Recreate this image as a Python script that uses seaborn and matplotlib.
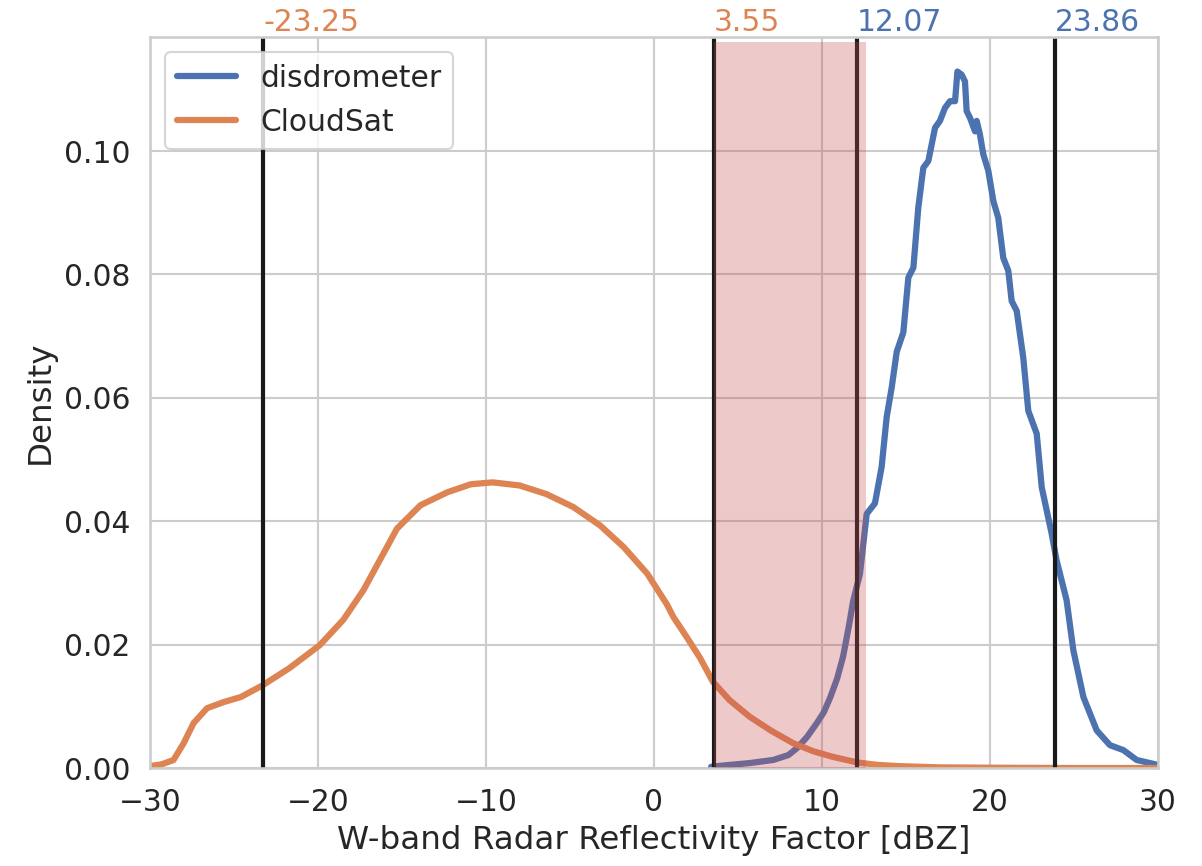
import pandas as pd
import matplotlib
matplotlib.use("Agg")
import matplotlib.pyplot as plt
import seaborn as sns

# density curves
cloudsat_x = [-30, -29.3, -28.6, -28.0, -27.4, -26.6, -25.6, -24.6, -23.3, -21.7, -19.9,
              -18.5, -17.3, -16.3, -15.3, -13.9, -12.3, -10.9, -9.6, -8.0, -6.4, -4.8,
              -3.2, -1.8, -0.4, 0.75, 1.15, 2.0, 2.75, 3.5, 4.5, 5.7, 7.0, 8.3, 9.5,
              10.65, 12.1, 13.3, 14.6, 17.0, 20.0, 25.0, 30.0]
cloudsat_y = [0.0003, 0.0006, 0.0013, 0.004, 0.0073, 0.0097, 0.0107, 0.0115, 0.0134, 0.0162,
              0.0199, 0.024, 0.0288, 0.0338, 0.0388, 0.0426, 0.0447, 0.046, 0.0463, 0.0458,
              0.0444, 0.0423, 0.0393, 0.0358, 0.0315, 0.0266, 0.0245, 0.021, 0.0178, 0.014,
              0.011, 0.0083, 0.006, 0.004, 0.0027, 0.0018, 0.0009, 0.0005, 0.0003, 0.0001,
              0.00005, 0.0, 0.0]

disdro_x = [3.4, 4.5, 5.7, 7.1, 8.0, 8.5, 9.1, 9.7, 10.1, 10.5, 10.9, 11.25, 11.6, 11.85,
            12.26, 12.66, 13.15, 13.55, 13.85, 14.15, 14.45, 14.84, 15.14, 15.44, 15.73,
            16.03, 16.33, 16.73, 17.02, 17.32, 17.62, 17.92, 18.06, 18.31, 18.51, 18.61,
            18.81, 19.11, 19.21, 19.40, 19.60, 19.90, 20.20, 20.49, 20.79, 21.09, 21.29,
            21.59, 21.98, 22.28, 22.78, 23.08, 23.67, 23.96, 24.56, 24.96, 25.56, 26.35,
            27.14, 27.94, 28.73, 29.52, 30.0]
disdro_y = [0.0002, 0.0005, 0.0008, 0.0013, 0.0021, 0.0032, 0.005, 0.0073, 0.009, 0.0115,
            0.0145, 0.018, 0.023, 0.027, 0.0315, 0.0412, 0.0429, 0.0488, 0.0569, 0.0617,
            0.0675, 0.0706, 0.0795, 0.0811, 0.0908, 0.0973, 0.0984, 0.1038, 0.1049, 0.107,
            0.1081, 0.1081, 0.1129, 0.1124, 0.1113, 0.1065, 0.1054, 0.1032, 0.1049, 0.1027,
            0.0995, 0.0968, 0.0919, 0.0892, 0.0827, 0.0806, 0.0757, 0.0741, 0.0665, 0.0579,
            0.0542, 0.0455, 0.038, 0.0337, 0.0272, 0.0191, 0.0115, 0.0061, 0.0037, 0.0029,
            0.0013, 0.0008, 0.0005]

cloudsat_bounds = [-23.25, 3.55]
disdro_bounds = [12.07, 23.86]
span = [3.55, 12.6]

df = pd.concat([
    pd.DataFrame({'dBZ': disdro_x, 'Density': disdro_y, 'source': 'disdrometer'}),
    pd.DataFrame({'dBZ': cloudsat_x, 'Density': cloudsat_y, 'source': 'CloudSat'}),
])

sns.set_theme(style="whitegrid", font_scale=1.3)
pal = sns.color_palette("deep")

fig = plt.figure(figsize=(1202 / 150, 866 / 150), dpi=150)
ax = fig.add_axes([150 / 1202, 1 - 768 / 866, 1008 / 1202, 731 / 866])

sns.lineplot(data=df, x='dBZ', y='Density', hue='source', palette=[pal[0], pal[1]],
             linewidth=3, estimator=None, sort=False, ax=ax)

ax.set_xlim(-30, 30)
ax.set_ylim(0, 0.1185)
ytop = ax.get_ylim()[1]

for v in cloudsat_bounds + disdro_bounds:
    ax.axvline(v, color='k', linewidth=2)
for v in cloudsat_bounds:
    ax.text(v, ytop, f'{v:.2f}', color=pal[1], fontsize=14.3, ha='left', va='bottom')
for v in disdro_bounds:
    ax.text(v, ytop, f'{v:.2f}', color=pal[0], fontsize=14.3, ha='left', va='bottom')

ax.axvspan(span[0], span[1], ymin=0, ymax=0.993, color=pal[3], alpha=0.3, linewidth=0, zorder=5)

ax.set_xlabel('W-band Radar Reflectivity Factor [dBZ]')
ax.set_ylabel('Density')
leg = ax.legend(loc='upper left')
for line in leg.get_lines():
    line.set_linewidth(3)

fig.savefig('out.png', dpi=150)
